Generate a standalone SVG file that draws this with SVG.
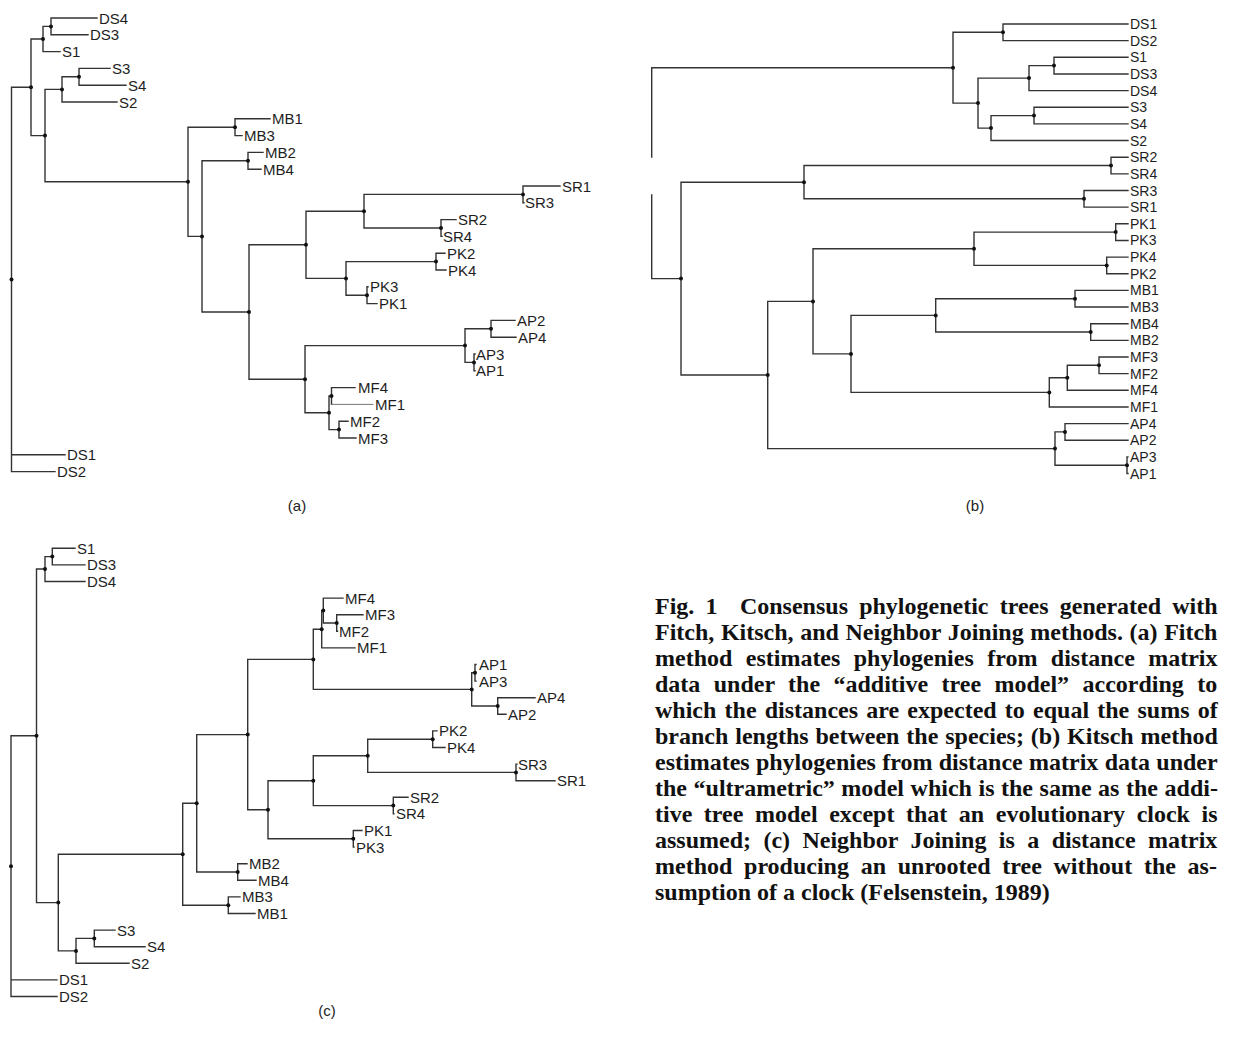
<svg xmlns="http://www.w3.org/2000/svg" width="1234" height="1043" viewBox="0 0 1234 1043">
<style>
.br{stroke:#333;stroke-width:1.4;fill:none;stroke-linecap:square}
.dt{fill:#111}
.lb{font-family:"Liberation Sans",Arial,sans-serif;font-size:15px;fill:#1e1e1e}
.lbb{font-family:"Liberation Sans",Arial,sans-serif;font-size:14px;fill:#1e1e1e}
.pl{font-family:"Liberation Sans",Arial,sans-serif;font-size:15px;fill:#222;text-anchor:middle}
.cap{font-family:"Liberation Serif","Times New Roman",serif;font-weight:bold;font-size:24px;fill:#111}
</style>
<rect width="1234" height="1043" fill="#fff"/>

<!-- ================= Tree (a) ================= -->
<g id="tree-a">
<g id="a-connectors" class="br">
<path d="M51,18V34.8M51,18H97M51,34.8H88"/>
<path d="M43,26.4V51.6M43,26.4H51M43,51.6H60"/>
<path d="M79,68.4V85.2M79,68.4H110M79,85.2H126"/>
<path d="M62,76.8V102M62,76.8H79M62,102H117"/>
<path d="M235,118.8V135.6M235,118.8H270M235,135.6H242"/>
<path d="M248,152.4V169.2M248,152.4H263M248,169.2H261"/>
<path d="M523,186V202.8M523,186H560M523,202.8H524"/>
<path d="M441,219.6V236.4M441,219.6H456M441,236.4H442"/>
<path d="M364,194.4V228M364,194.4H523M364,228H441"/>
<path d="M436,253.2V270M436,253.2H445M436,270H446"/>
<path d="M367,286.8V303.6M367,286.8H368M367,303.6H377"/>
<path d="M346,261.6V295.2M346,261.6H436M346,295.2H367"/>
<path d="M306,211.2V278.4M306,211.2H364M306,278.4H346"/>
<path d="M491,320.4V337.2M491,320.4H515M491,337.2H516"/>
<path d="M474,354V370.8M474,354H475M474,370.8H475"/>
<path d="M465,328.8V362.4M465,328.8H491M465,362.4H474"/>
<path d="M331.5,387.6V404.4M331.5,387.6H355"/>
<path d="M331.5,404.4H373" stroke-width="0.9" stroke="#666"/>
<path d="M339,421.2V438M339,421.2H348M339,438H356"/>
<path d="M329,396V429.6M329,396H331.5M329,429.6H339"/>
<path d="M305,345.6V412.8M305,345.6H465M305,412.8H329"/>
<path d="M249,244.8V379.2M249,244.8H306M249,379.2H305"/>
<path d="M202,160.8V312M202,160.8H248M202,312H249"/>
<path d="M188,127.2V236.4M188,127.2H235M188,236.4H202"/>
<path d="M45,89.4V181.8M45,89.4H62M45,181.8H188"/>
<path d="M31,39V135.6M31,39H43M31,135.6H45"/>
<path d="M11.5,87.3V471.6M11.5,87.3H31M11.5,454.8H65M11.5,471.6H55"/>
</g>
<g id="a-internal" class="dt">
<circle cx="51" cy="26.4" r="2"/><circle cx="43" cy="39" r="2"/><circle cx="79" cy="76.8" r="2"/>
<circle cx="62" cy="89.4" r="2"/><circle cx="235" cy="127.2" r="2"/><circle cx="248" cy="160.8" r="2"/>
<circle cx="523" cy="194.4" r="2"/><circle cx="441" cy="228" r="2"/><circle cx="364" cy="211.2" r="2"/>
<circle cx="436" cy="261.6" r="2"/><circle cx="367" cy="295.2" r="2"/><circle cx="346" cy="278.4" r="2"/>
<circle cx="306" cy="244.8" r="2"/><circle cx="491" cy="328.8" r="2"/><circle cx="474" cy="362.4" r="2"/>
<circle cx="465" cy="345.6" r="2"/><circle cx="331.5" cy="396" r="2"/><circle cx="339" cy="429.6" r="2"/>
<circle cx="329" cy="412.8" r="2"/><circle cx="305" cy="379.2" r="2"/><circle cx="249" cy="312" r="2"/>
<circle cx="202" cy="236.4" r="2"/><circle cx="188" cy="181.8" r="2"/><circle cx="45" cy="135.6" r="2"/>
<circle cx="31" cy="87.3" r="2"/><circle cx="11.5" cy="279.5" r="2"/>
</g>
<g class="lb">
<g id="a-DS4"><text x="99" y="23.5">DS4</text></g>
<g id="a-DS3"><text x="90" y="40.3">DS3</text></g>
<g id="a-S1"><text x="62" y="57.1">S1</text></g>
<g id="a-S3"><text x="112" y="73.9">S3</text></g>
<g id="a-S4"><text x="128" y="90.7">S4</text></g>
<g id="a-S2"><text x="119" y="107.5">S2</text></g>
<g id="a-MB1"><text x="272" y="124.3">MB1</text></g>
<g id="a-MB3"><text x="244" y="141.1">MB3</text></g>
<g id="a-MB2"><text x="265" y="157.9">MB2</text></g>
<g id="a-MB4"><text x="263" y="174.7">MB4</text></g>
<g id="a-SR1"><text x="562" y="191.5">SR1</text></g>
<g id="a-SR3"><text x="525" y="208.3">SR3</text></g>
<g id="a-SR2"><text x="458" y="225.1">SR2</text></g>
<g id="a-SR4"><text x="443" y="241.9">SR4</text></g>
<g id="a-PK2"><text x="447" y="258.7">PK2</text></g>
<g id="a-PK4"><text x="448" y="275.5">PK4</text></g>
<g id="a-PK3"><text x="370" y="292.3">PK3</text></g>
<g id="a-PK1"><text x="379" y="309.1">PK1</text></g>
<g id="a-AP2"><text x="517" y="325.9">AP2</text></g>
<g id="a-AP4"><text x="518" y="342.7">AP4</text></g>
<g id="a-AP3"><text x="476" y="359.5">AP3</text></g>
<g id="a-AP1"><text x="476" y="376.3">AP1</text></g>
<g id="a-MF4"><text x="358" y="393.1">MF4</text></g>
<g id="a-MF1"><text x="375" y="409.9">MF1</text></g>
<g id="a-MF2"><text x="350" y="426.7">MF2</text></g>
<g id="a-MF3"><text x="358" y="443.5">MF3</text></g>
<g id="a-DS1"><text x="67" y="460.3">DS1</text></g>
<g id="a-DS2"><text x="57" y="477.1">DS2</text></g>
</g>
<text class="pl" x="297" y="511">(a)</text>
</g>

<!-- ================= Tree (b) ================= -->
<g id="tree-b">
<g id="b-connectors" class="br">
<path d="M1003,24V40.65M1003,24H1128M1003,40.65H1128"/>
<path d="M1054,57.3V73.95M1054,57.3H1128M1054,73.95H1128"/>
<path d="M1029,65.6V90.6M1029,65.6H1054M1029,90.6H1128"/>
<path d="M1034,107.25V123.9M1034,107.25H1128M1034,123.9H1128"/>
<path d="M991,115.6V140.55M991,115.6H1034M991,140.55H1128"/>
<path d="M978,78.1V128.1M978,78.1H1029M978,128.1H991"/>
<path d="M953,32.3V103.1M953,32.3H1003M953,103.1H978"/>
<path d="M1111,157.2V173.85M1111,157.2H1128M1111,173.85H1128"/>
<path d="M1084,190.5V207.15M1084,190.5H1128M1084,207.15H1128"/>
<path d="M804,165.5V198.8M804,165.5H1111M804,198.8H1084"/>
<path d="M1115.7,223.8V240.45M1115.7,223.8H1128M1115.7,240.45H1128"/>
<path d="M1106.7,257.1V273.75M1106.7,257.1H1128M1106.7,273.75H1128"/>
<path d="M974,232.1V265.4M974,232.1H1115.7M974,265.4H1106.7"/>
<path d="M1075,290.4V307.05M1075,290.4H1128M1075,307.05H1128"/>
<path d="M1090.7,323.7V340.35M1090.7,323.7H1128M1090.7,340.35H1128"/>
<path d="M935.7,298.7V332M935.7,298.7H1075M935.7,332H1090.7"/>
<path d="M1099,357V373.65M1099,357H1128M1099,373.65H1128"/>
<path d="M1067.3,365.3V390.3M1067.3,365.3H1099M1067.3,390.3H1128"/>
<path d="M1049.3,377.8V406.95M1049.3,377.8H1067.3M1049.3,406.95H1128"/>
<path d="M851,315.4V392.4M851,315.4H935.7M851,392.4H1049.3"/>
<path d="M813,248.8V353.9M813,248.8H974M813,353.9H851"/>
<path d="M1065,423.6V440.25M1065,423.6H1128M1065,440.25H1128"/>
<path d="M1127,456.9V473.55M1127,456.9H1128M1127,473.55H1128"/>
<path d="M1055,431.9V465.2M1055,431.9H1065M1055,465.2H1127"/>
<path d="M767.7,301.4V448.6M767.7,301.4H813M767.7,448.6H1055"/>
<path d="M681,182.2V375M681,182.2H804M681,375H767.7"/>
<path d="M651.7,67.7V157M651.7,195V278.6M651.7,67.7H953M651.7,278.6H681"/>
</g>
<g id="b-internal" class="dt">
<circle cx="1003" cy="32.3" r="2"/><circle cx="1054" cy="65.6" r="2"/><circle cx="1029" cy="78.1" r="2"/>
<circle cx="1034" cy="115.6" r="2"/><circle cx="991" cy="128.1" r="2"/><circle cx="978" cy="103.1" r="2"/>
<circle cx="953" cy="67.7" r="2"/><circle cx="1111" cy="165.5" r="2"/><circle cx="1084" cy="198.8" r="2"/>
<circle cx="804" cy="182.2" r="2"/><circle cx="1115.7" cy="232.1" r="2"/><circle cx="1106.7" cy="265.4" r="2"/>
<circle cx="974" cy="248.8" r="2"/><circle cx="1075" cy="298.7" r="2"/><circle cx="1090.7" cy="332" r="2"/>
<circle cx="935.7" cy="315.4" r="2"/><circle cx="1099" cy="365.3" r="2"/><circle cx="1067.3" cy="377.8" r="2"/>
<circle cx="1049.3" cy="392.4" r="2"/><circle cx="851" cy="353.9" r="2"/><circle cx="813" cy="301.4" r="2"/>
<circle cx="1065" cy="431.9" r="2"/><circle cx="1127" cy="465.2" r="2"/><circle cx="1055" cy="448.6" r="2"/>
<circle cx="767.7" cy="375" r="2"/><circle cx="681" cy="278.6" r="2"/>
</g>
<g class="lbb">
<g id="b-DS1"><text x="1130" y="29">DS1</text></g>
<g id="b-DS2"><text x="1130" y="45.65">DS2</text></g>
<g id="b-S1"><text x="1130" y="62.3">S1</text></g>
<g id="b-DS3"><text x="1130" y="78.95">DS3</text></g>
<g id="b-DS4"><text x="1130" y="95.6">DS4</text></g>
<g id="b-S3"><text x="1130" y="112.25">S3</text></g>
<g id="b-S4"><text x="1130" y="128.9">S4</text></g>
<g id="b-S2"><text x="1130" y="145.55">S2</text></g>
<g id="b-SR2"><text x="1130" y="162.2">SR2</text></g>
<g id="b-SR4"><text x="1130" y="178.85">SR4</text></g>
<g id="b-SR3"><text x="1130" y="195.5">SR3</text></g>
<g id="b-SR1"><text x="1130" y="212.15">SR1</text></g>
<g id="b-PK1"><text x="1130" y="228.8">PK1</text></g>
<g id="b-PK3"><text x="1130" y="245.45">PK3</text></g>
<g id="b-PK4"><text x="1130" y="262.1">PK4</text></g>
<g id="b-PK2"><text x="1130" y="278.75">PK2</text></g>
<g id="b-MB1"><text x="1130" y="295.4">MB1</text></g>
<g id="b-MB3"><text x="1130" y="312.05">MB3</text></g>
<g id="b-MB4"><text x="1130" y="328.7">MB4</text></g>
<g id="b-MB2"><text x="1130" y="345.35">MB2</text></g>
<g id="b-MF3"><text x="1130" y="362">MF3</text></g>
<g id="b-MF2"><text x="1130" y="378.65">MF2</text></g>
<g id="b-MF4"><text x="1130" y="395.3">MF4</text></g>
<g id="b-MF1"><text x="1130" y="411.95">MF1</text></g>
<g id="b-AP4"><text x="1130" y="428.6">AP4</text></g>
<g id="b-AP2"><text x="1130" y="445.25">AP2</text></g>
<g id="b-AP3"><text x="1130" y="461.9">AP3</text></g>
<g id="b-AP1"><text x="1130" y="478.55">AP1</text></g>
</g>
<text class="pl" x="975" y="511">(b)</text>
</g>

<!-- ================= Tree (c) ================= -->
<g id="tree-c">
<g id="c-connectors" class="br">
<path d="M52.3,548.3V564.9M52.3,548.3H75M52.3,564.9H85"/>
<path d="M45,556.6V581.5M45,556.6H52.3M45,581.5H85"/>
<path d="M336.7,614.7V631.3M336.7,614.7H363M336.7,631.3H337.5"/>
<path d="M323.3,598.1V623M323.3,598.1H343M323.3,623H336.7"/>
<path d="M321.7,610.6V647.9M321.7,610.6H323.3M321.7,647.9H355"/>
<path d="M475,664.5V681.1M475,664.5H476M475,681.1H476"/>
<path d="M497.7,697.7V714.3M497.7,697.7H535M497.7,714.3H506"/>
<path d="M471.7,672.8V706M471.7,672.8H475M471.7,706H497.7"/>
<path d="M313.3,629.3V689.4M313.3,629.3H321.7M313.3,689.4H471.7"/>
<path d="M432.7,730.9V747.5M432.7,730.9H437M432.7,747.5H445"/>
<path d="M516,764.1V780.7M516,764.1H517M516,780.7H555"/>
<path d="M367.7,739.2V772.4M367.7,739.2H432.7M367.7,772.4H516"/>
<path d="M393.3,797.3V813.9M393.3,797.3H408M393.3,813.9H394"/>
<path d="M313.3,755.8V805.6M313.3,755.8H367.7M313.3,805.6H393.3"/>
<path d="M353.3,830.5V847.1M353.3,830.5H362M353.3,847.1H354"/>
<path d="M268,780.7V838.8M268,780.7H313.3M268,838.8H353.3"/>
<path d="M247.7,659.4V809.8M247.7,659.4H313.3M247.7,809.8H268"/>
<path d="M237.7,863.7V880.3M237.7,863.7H247M237.7,880.3H256"/>
<path d="M196.7,734.6V872M196.7,734.6H247.7M196.7,872H237.7"/>
<path d="M228.3,896.9V913.5M228.3,896.9H240M228.3,913.5H255"/>
<path d="M182.7,803.3V905.2M182.7,803.3H196.7M182.7,905.2H228.3"/>
<path d="M94.3,930.1V946.7M94.3,930.1H115M94.3,946.7H145"/>
<path d="M76,938.4V963.3M76,938.4H94.3M76,963.3H129"/>
<path d="M58.3,854.3V950.9M58.3,854.3H182.7M58.3,950.9H76"/>
<path d="M36.5,569V902.6M36.5,569H45M36.5,902.6H58.3"/>
<path d="M11,735.8V996.5M11,735.8H36.5M11,979.9H57M11,996.5H57"/>
</g>
<g id="c-internal" class="dt">
<circle cx="52.3" cy="556.6" r="2"/><circle cx="45" cy="569" r="2"/><circle cx="336.7" cy="623" r="2"/>
<circle cx="323.3" cy="610.6" r="2"/><circle cx="321.7" cy="629.3" r="2"/><circle cx="475" cy="672.8" r="2"/>
<circle cx="497.7" cy="706" r="2"/><circle cx="471.7" cy="689.4" r="2"/><circle cx="313.3" cy="659.4" r="2"/>
<circle cx="432.7" cy="739.2" r="2"/><circle cx="516" cy="772.4" r="2"/><circle cx="367.7" cy="755.8" r="2"/>
<circle cx="393.3" cy="805.6" r="2"/><circle cx="313.3" cy="780.7" r="2"/><circle cx="353.3" cy="838.8" r="2"/>
<circle cx="268" cy="809.8" r="2"/><circle cx="247.7" cy="734.6" r="2"/><circle cx="237.7" cy="872" r="2"/>
<circle cx="196.7" cy="803.3" r="2"/><circle cx="228.3" cy="905.2" r="2"/><circle cx="182.7" cy="854.3" r="2"/>
<circle cx="94.3" cy="938.4" r="2"/><circle cx="76" cy="950.9" r="2"/><circle cx="58.3" cy="902.6" r="2"/>
<circle cx="36.5" cy="735.8" r="2"/><circle cx="11" cy="866.2" r="2"/>
</g>
<g class="lb">
<g id="c-S1"><text x="77" y="553.8">S1</text></g>
<g id="c-DS3"><text x="87" y="570.4">DS3</text></g>
<g id="c-DS4"><text x="87" y="587">DS4</text></g>
<g id="c-MF4"><text x="345" y="603.6">MF4</text></g>
<g id="c-MF3"><text x="365" y="620.2">MF3</text></g>
<g id="c-MF2"><text x="339" y="636.8">MF2</text></g>
<g id="c-MF1"><text x="357" y="653.4">MF1</text></g>
<g id="c-AP1"><text x="479" y="670">AP1</text></g>
<g id="c-AP3"><text x="479" y="686.6">AP3</text></g>
<g id="c-AP4"><text x="537" y="703.2">AP4</text></g>
<g id="c-AP2"><text x="508" y="719.8">AP2</text></g>
<g id="c-PK2"><text x="439" y="736.4">PK2</text></g>
<g id="c-PK4"><text x="447" y="753">PK4</text></g>
<g id="c-SR3"><text x="518" y="769.6">SR3</text></g>
<g id="c-SR1"><text x="557" y="786.2">SR1</text></g>
<g id="c-SR2"><text x="410" y="802.8">SR2</text></g>
<g id="c-SR4"><text x="396" y="819.4">SR4</text></g>
<g id="c-PK1"><text x="364" y="836">PK1</text></g>
<g id="c-PK3"><text x="356" y="852.6">PK3</text></g>
<g id="c-MB2"><text x="249" y="869.2">MB2</text></g>
<g id="c-MB4"><text x="258" y="885.8">MB4</text></g>
<g id="c-MB3"><text x="242" y="902.4">MB3</text></g>
<g id="c-MB1"><text x="257" y="919">MB1</text></g>
<g id="c-S3"><text x="117" y="935.6">S3</text></g>
<g id="c-S4"><text x="147" y="952.2">S4</text></g>
<g id="c-S2"><text x="131" y="968.8">S2</text></g>
<g id="c-DS1"><text x="59" y="985.4">DS1</text></g>
<g id="c-DS2"><text x="59" y="1002">DS2</text></g>
</g>
<text class="pl" x="327" y="1016">(c)</text>
</g>

<!-- ================= Caption ================= -->
<g id="caption" class="cap">
<text x="655" y="614" word-spacing="5.2">Fig. 1&#160; Consensus phylogenetic trees generated with</text>
<text x="655" y="640" word-spacing="0.6">Fitch, Kitsch, and Neighbor Joining methods. (a) Fitch</text>
<text x="655" y="666" word-spacing="7.4">method estimates phylogenies from distance matrix</text>
<text x="655" y="692" word-spacing="7.4">data under the “additive tree model” according to</text>
<text x="655" y="718" word-spacing="2.2">which the distances are expected to equal the sums of</text>
<text x="655" y="744" word-spacing="0.9">branch lengths between the species; (b) Kitsch method</text>
<text x="655" y="770" word-spacing="0.3">estimates phylogenies from distance matrix data under</text>
<text x="655" y="796" word-spacing="0.55">the “ultrametric” model which is the same as the addi-</text>
<text x="655" y="822" word-spacing="5.55">tive tree model except that an evolutionary clock is</text>
<text x="655" y="848" word-spacing="6.4">assumed; (c) Neighbor Joining is a distance matrix</text>
<text x="655" y="874" word-spacing="5.7">method producing an unrooted tree without the as-</text>
<text x="655" y="900">sumption of a clock (Felsenstein, 1989)</text>
</g>
</svg>
